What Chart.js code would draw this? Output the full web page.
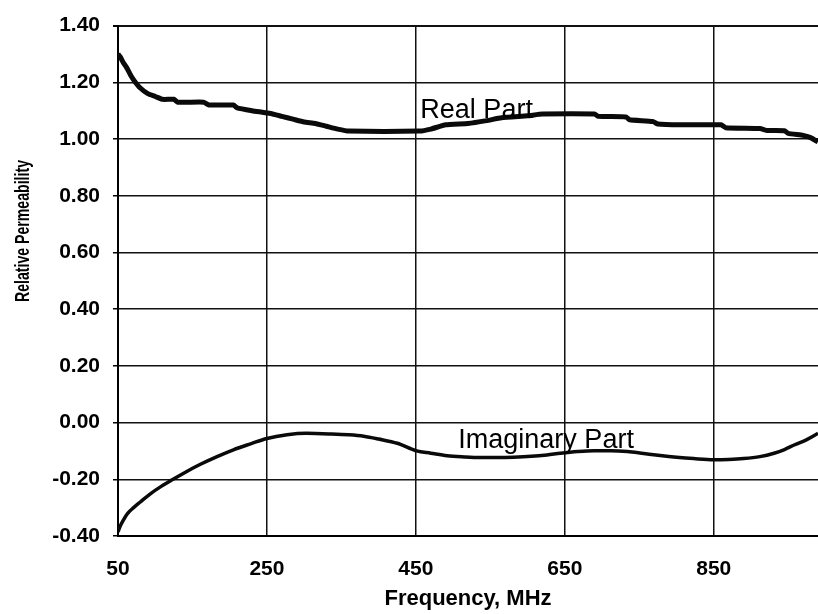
<!DOCTYPE html>
<html>
<head>
<meta charset="utf-8">
<script src="https://cdn.jsdelivr.net/npm/chart.js@4/dist/chart.umd.min.js"></script>
<style>
  html, body { margin: 0; padding: 0; background: #ffffff; }
  #wrap { width: 818px; height: 614px; }
</style>
</head>
<body>
<div id="wrap"><canvas id="c" width="818" height="614"></canvas></div>
<script>
// Frequency (MHz) / relative permeability readings
const realFreq = [50,53,57,62,67,72,80,90,100,110,125,130,165,172,205,210,230,255,270,285,300,315,330,345,360,455,470,490,520,545,565,600,620,690,695,732,737,768,775,805,860,866,912,922,945,950,970,980,990];
const realVals = [1.30,1.29,1.27,1.25,1.225,1.205,1.18,1.16,1.15,1.14,1.14,1.13,1.13,1.12,1.12,1.11,1.10,1.09,1.08,1.07,1.06,1.055,1.045,1.035,1.028,1.028,1.035,1.05,1.055,1.065,1.075,1.082,1.088,1.088,1.08,1.078,1.068,1.062,1.053,1.05,1.05,1.04,1.037,1.03,1.029,1.02,1.013,1.005,0.99];

const imagFreq = [50,53,57,63,71,80,93,108,124,140,160,183,205,228,250,277,303,335,360,380,400,425,451,470,492,515,537,560,581,605,626,644,667,689,712,734,756,778,800,823,850,870,890,912,931,945,958,975,990];
const imagVals = [-0.385,-0.365,-0.345,-0.32,-0.30,-0.28,-0.252,-0.225,-0.20,-0.176,-0.148,-0.12,-0.096,-0.075,-0.056,-0.043,-0.038,-0.04,-0.043,-0.048,-0.058,-0.073,-0.10,-0.108,-0.117,-0.121,-0.123,-0.123,-0.122,-0.119,-0.114,-0.108,-0.102,-0.099,-0.099,-0.102,-0.109,-0.116,-0.122,-0.127,-0.131,-0.13,-0.127,-0.12,-0.108,-0.095,-0.079,-0.06,-0.038];

const xTicks = [50, 250, 450, 650, 850];
const xMin = 50, xMax = 990;
const yMin = -0.4, yMax = 1.4, yStep = 0.2;

const seriesNames = ['Real Part', 'Imaginary Part'];
const labelAnchors = [[456, 1.10], [507, -0.064]];

const xTitle = 'Frequency, MHz';
const yTitle = 'Relative Permeability';

const FONT = '"Liberation Sans", Arial, Helvetica, sans-serif';

const toPts = (xs, ys) => xs.map((x, i) => ({ x: x, y: ys[i] }));

const annotPlugin = {
  id: 'annot',
  afterDatasetsDraw(chart) {
    const ctx = chart.ctx;
    const xs = chart.scales.x, ys = chart.scales.y;
    ctx.save();
    ctx.fillStyle = '#000';
    ctx.font = '27px ' + FONT;
    ctx.textAlign = 'left';
    ctx.textBaseline = 'middle';
    seriesNames.forEach((n, i) => {
      ctx.fillText(n, xs.getPixelForValue(labelAnchors[i][0]), ys.getPixelForValue(labelAnchors[i][1]));
    });
    // rotated, condensed y axis title
    ctx.font = 'bold 21px ' + FONT;
    const w = ctx.measureText(yTitle).width;
    const targetLen = 142;
    ctx.translate(23, 231);
    ctx.rotate(-Math.PI / 2);
    ctx.scale(targetLen / w, 1);
    ctx.textAlign = 'center';
    ctx.fillText(yTitle, 0, 0);
    ctx.restore();
  }
};

new Chart(document.getElementById('c'), {
  type: 'line',
  data: {
    datasets: [
      {
        label: seriesNames[0],
        data: toPts(realFreq, realVals),
        borderColor: '#0a0a0a',
        borderWidth: 5,
        pointRadius: 0,
        tension: 0.15,
        fill: false
      },
      {
        label: seriesNames[1],
        data: toPts(imagFreq, imagVals),
        borderColor: '#0a0a0a',
        borderWidth: 3.5,
        pointRadius: 0,
        tension: 0.4,
        cubicInterpolationMode: 'monotone',
        fill: false
      }
    ]
  },
  options: {
    responsive: false,
    animation: false,
    devicePixelRatio: 1,
    layout: { padding: { top: 17, right: 0, left: 0, bottom: 0 } },
    plugins: {
      legend: { display: false },
      tooltip: { enabled: false }
    },
    scales: {
      x: {
        type: 'linear',
        min: xMin,
        max: xMax,
        afterBuildTicks(scale) { scale.ticks = xTicks.map(v => ({ value: v })); },
        afterFit(scale) { scale.height = 78; },
        grid: {
          color: '#111',
          lineWidth: 1.5,
          drawTicks: false
        },
        border: { display: true, color: '#000', width: 2 },
        ticks: {
          color: '#000',
          font: { family: FONT, size: 21, weight: 'bold' },
          padding: 21,
          maxRotation: 0,
          autoSkip: false,
          callback: v => String(v)
        },
        title: {
          display: true,
          text: xTitle,
          color: '#000',
          font: { family: FONT, size: 22, weight: 'bold' },
          padding: { top: 0, bottom: 2 }
        }
      },
      y: {
        type: 'linear',
        min: yMin,
        max: yMax,
        afterFit(scale) { scale.width = 118; },
        grid: {
          color: '#111',
          lineWidth: ctx => (ctx.tick && Math.abs(ctx.tick.value - yMax) < 1e-6) ? 2 : 1.5,
          drawTicks: true,
          tickLength: 5,
          tickColor: '#000'
        },
        border: { display: true, color: '#000', width: 2 },
        ticks: {
          stepSize: yStep,
          color: '#000',
          font: { family: FONT, size: 21, weight: 'bold' },
          padding: 13,
          callback: v => (Math.abs(v) < 1e-9 ? 0 : Number(v)).toFixed(2)
        }
      }
    }
  },
  plugins: [annotPlugin]
});
</script>
</body>
</html>
